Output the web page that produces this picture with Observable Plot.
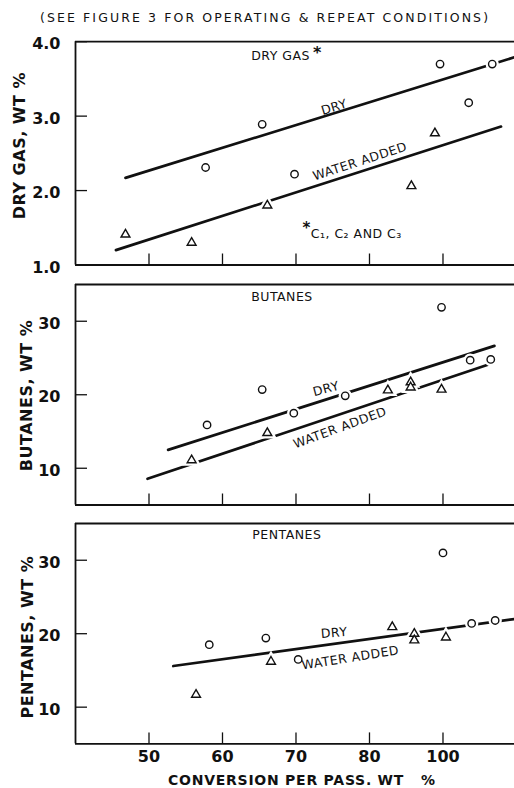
<!DOCTYPE html>
<html><head><meta charset="utf-8">
<script src="https://cdn.jsdelivr.net/npm/d3@7"></script>
<script src="https://cdn.jsdelivr.net/npm/@observablehq/plot@0.6"></script>
<style>
body{margin:0;background:#fff;}
#wrap{position:relative;width:514px;height:788px;overflow:hidden;font-family:"DejaVu Sans",sans-serif;color:#111;background:#fff;}
.panel{position:absolute;left:0;}
#subtitle{position:absolute;top:11px;left:40px;white-space:nowrap;font-size:12.5px;letter-spacing:2.1px;line-height:14px;}
#xtitle{position:absolute;top:772px;left:168px;white-space:nowrap;font-size:14px;font-weight:bold;letter-spacing:0.75px;line-height:16px;}
svg text.ann{letter-spacing:0.5px;}
</style></head>
<body>
<div id="wrap">
  <div id="subtitle">(SEE FIGURE 3 FOR OPERATING &amp; REPEAT CONDITIONS)</div>
  <div id="p1" class="panel" style="top:0px"></div>
  <div id="p2" class="panel" style="top:272px"></div>
  <div id="p3" class="panel" style="top:512px"></div>
  <div id="xtitle">CONVERSION PER PASS. WT&nbsp;&nbsp;&nbsp;%</div>
</div>
<script>
// ---- data ----
const xTickValues = [50, 60, 70, 80, 90];
const xTickLabels = ["50", "60", "70", "80", "100"];

const dryGasTicks = [1, 2, 3, 4];
const dryGasTickLabels = ["1.0", "2.0", "3.0", "4.0"];
const compTicks = [10, 20, 30];
const compTickLabels = ["10", "20", "30"];

const dryGasDryX = [57.7, 65.4, 69.8, 89.6, 93.5, 96.7];
const dryGasDryY = [2.31, 2.89, 2.22, 3.70, 3.18, 3.70];
const dryGasWaterX = [46.8, 55.8, 66.1, 85.7, 88.9];
const dryGasWaterY = [1.41, 1.30, 1.80, 2.06, 2.77];
const dryGasDryFitX = [46.8, 99.7];
const dryGasDryFitY = [2.17, 3.79];
const dryGasWaterFitX = [45.5, 97.9];
const dryGasWaterFitY = [1.20, 2.86];

const butanesDryX = [57.9, 65.4, 69.7, 76.7, 89.8, 93.7, 96.5];
const butanesDryY = [15.9, 20.7, 17.5, 19.85, 31.9, 24.7, 24.8];
const butanesWaterX = [55.8, 66.1, 82.5, 85.6, 85.6, 89.8];
const butanesWaterY = [11.1, 14.8, 20.6, 21.7, 21.0, 20.7];
const butanesDryFitX = [52.6, 97.0];
const butanesDryFitY = [12.5, 26.65];
const butanesWaterFitX = [49.8, 96.1];
const butanesWaterFitY = [8.56, 24.07];

const pentanesDryX = [58.2, 65.9, 70.3, 90.0, 93.9, 97.1];
const pentanesDryY = [18.5, 19.4, 16.5, 31.0, 21.4, 21.8];
const pentanesWaterX = [56.4, 66.6, 83.1, 86.1, 86.1, 90.4];
const pentanesWaterY = [11.7, 16.2, 20.9, 20.0, 19.1, 19.5];
const pentanesFitX = [53.3, 99.7];
const pentanesFitY = [15.6, 22.0];

// ---- helpers ----
const INK = "#111";
const FONT = "DejaVu Sans";
const zip = (xs, ys) => xs.map((x, i) => ({x, y: ys[i]}));
const fitRows = (fits) => fits.flatMap((f, k) => f.x.map((x, i) => ({x, y: f.y[i], k})));

function panel(cfg) {
  const W = 514, mL = 75, mR = 0;
  const ph = cfg.height - cfg.marginTop - cfg.marginBottom;
  const circles = zip(cfg.dryX, cfg.dryY);
  const tris = zip(cfg.waterX, cfg.waterY);
  const marks = [
    Plot.ruleX([40], {stroke: INK, strokeWidth: 1.8}),
    Plot.ruleY([cfg.yDomain[0], cfg.yDomain[1]], {stroke: INK, strokeWidth: 1.8}),
    Plot.tickY(cfg.yTicks, {y: d => d, stroke: INK, strokeWidth: 1.3, insetRight: (W - mL - mR) - 12}),
    Plot.tickX(xTickValues, {x: d => d, stroke: INK, strokeWidth: 1.3, insetTop: ph - 11}),
    Plot.axisY(cfg.yTicks, {tickSize: 0, tickPadding: 15, dy: 2.5, fontSize: 16, fontWeight: "bold", fill: INK, label: null,
      tickFormat: d => cfg.yTickLabels[cfg.yTicks.indexOf(d)]}),
    Plot.line(fitRows(cfg.fits), {x: "x", y: "y", z: "k", stroke: INK, strokeWidth: 2.7}),
    Plot.dot(circles, {x: "x", y: "y", r: 3.7, fill: "white", stroke: "white", strokeWidth: 6}),
    Plot.dot(tris, {x: "x", y: "y", r: 3.3, symbol: "triangle", fill: "white", stroke: "white", strokeWidth: 6}),
    Plot.dot(circles, {x: "x", y: "y", r: 3.7, fill: "white", stroke: INK, strokeWidth: 1.4}),
    Plot.dot(tris, {x: "x", y: "y", r: 3.3, symbol: "triangle", fill: "white", stroke: INK, strokeWidth: 1.4}),
    Plot.text([cfg.yLabel], {frameAnchor: "left", textAnchor: "middle", rotate: -90, dx: cfg.yLabelDx, dy: cfg.yLabelDy,
      fontSize: 16, fontWeight: "bold", fill: INK}),
    ...cfg.labels
  ];
  if (cfg.showX) {
    marks.push(Plot.axisX(xTickValues, {tickSize: 0, tickPadding: 7, fontSize: 16, fontWeight: "bold", fill: INK, label: null,
      tickFormat: d => xTickLabels[xTickValues.indexOf(d)]}));
  }
  const svg = Plot.plot({
    width: W, height: cfg.height,
    marginLeft: mL, marginRight: mR, marginTop: cfg.marginTop, marginBottom: cfg.marginBottom,
    style: {fontFamily: FONT, background: "transparent", overflow: "visible", color: INK},
    x: {domain: [40, 99.73], axis: null},
    y: {domain: cfg.yDomain, axis: null},
    marks
  });
  svg.querySelectorAll("g[aria-label='text'] text").forEach(t => t.classList.add("ann"));
  return svg;
}

const lab = (t, x, y, rot, extra = {}) =>
  Plot.text([t], {x, y, text: d => d, rotate: rot, fontSize: 12.5, fill: INK, ...extra});

document.getElementById("p1").appendChild(panel({
  height: 272, marginTop: 41.2, marginBottom: 7.5,
  yDomain: [1, 4], yTicks: dryGasTicks, yTickLabels: dryGasTickLabels,
  dryX: dryGasDryX, dryY: dryGasDryY, waterX: dryGasWaterX, waterY: dryGasWaterY,
  fits: [{x: dryGasDryFitX, y: dryGasDryFitY}, {x: dryGasWaterFitX, y: dryGasWaterFitY}],
  yLabel: "DRY GAS, WT %", yLabelDx: -56, yLabelDy: -7.7,
  labels: [
    lab("DRY GAS", 63.9, 3.81, 0, {textAnchor: "start"}),
    lab("*", 72.3, 3.85, 0, {textAnchor: "start", fontSize: 16, fontWeight: "bold"}),
    lab("DRY", 75.2, 3.12, -17),
    lab("WATER ADDED", 78.7, 2.39, -18),
    lab("*", 70.9, 1.50, 0, {textAnchor: "start", fontSize: 15, fontWeight: "bold"}),
    lab("C₁, C₂ AND C₃", 72.0, 1.42, 0, {textAnchor: "start"})
  ]
}));

document.getElementById("p2").appendChild(panel({
  height: 240, marginTop: 12, marginBottom: 7.5,
  yDomain: [5, 35], yTicks: compTicks, yTickLabels: compTickLabels,
  dryX: butanesDryX, dryY: butanesDryY, waterX: butanesWaterX, waterY: butanesWaterY,
  fits: [{x: butanesDryFitX, y: butanesDryFitY}, {x: butanesWaterFitX, y: butanesWaterFitY}],
  yLabel: "BUTANES, WT %", yLabelDx: -49, yLabelDy: 0.7,
  labels: [
    lab("BUTANES", 63.9, 33.3, 0, {textAnchor: "start"}),
    lab("DRY", 74.1, 20.8, -15),
    lab("WATER ADDED", 76.0, 15.5, -20)
  ]
}));

document.getElementById("p3").appendChild(panel({
  height: 276, marginTop: 11, marginBottom: 44.6,
  yDomain: [5, 35], yTicks: compTicks, yTickLabels: compTickLabels,
  dryX: pentanesDryX, dryY: pentanesDryY, waterX: pentanesWaterX, waterY: pentanesWaterY,
  fits: [{x: pentanesFitX, y: pentanesFitY}],
  yLabel: "PENTANES, WT %", yLabelDx: -47.5, yLabelDy: 3.5,
  showX: true,
  labels: [
    lab("PENTANES", 64.05, 33.4, 0, {textAnchor: "start"}),
    lab("DRY", 75.2, 20.1, -5),
    lab("WATER ADDED", 77.4, 16.7, -9)
  ]
}));
</script>
</body></html>
